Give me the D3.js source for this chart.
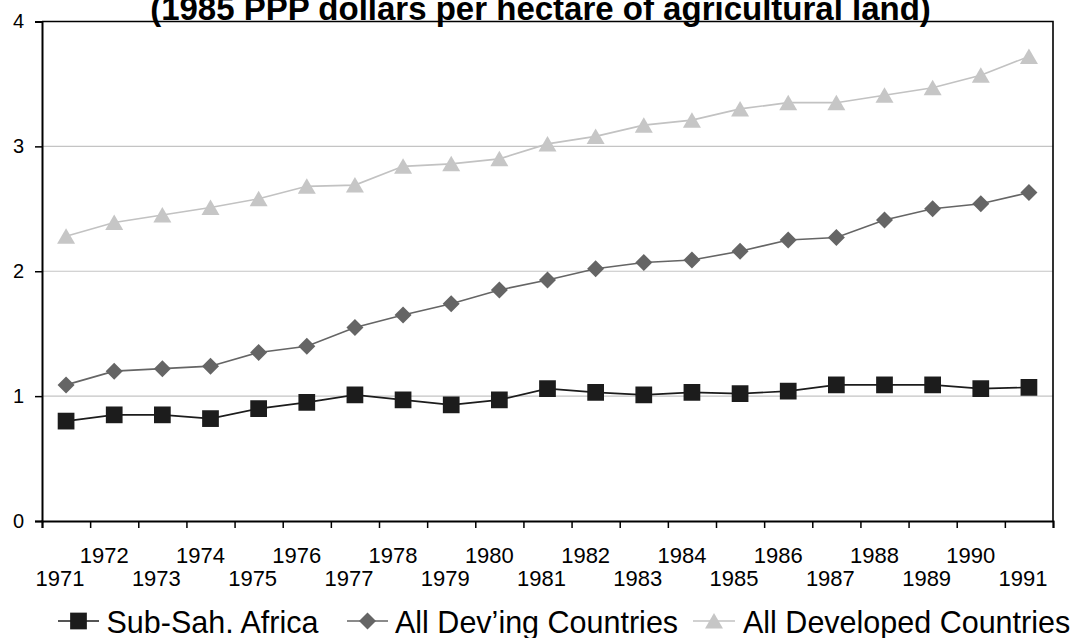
<!DOCTYPE html>
<html>
<head>
<meta charset="utf-8">
<script src="https://cdn.jsdelivr.net/npm/d3@7"></script>
<style>
  body { margin: 0; background: #fff; }
  svg { display: block; font-family: "Liberation Sans", Arial, sans-serif; }
</style>
</head>
<body>
<svg id="chart" width="1075" height="638"></svg>
<script>
// data (1985 PPP dollars / ha)
const years = d3.range(1971, 1992)
const subSahAfrica = [0.80, 0.85, 0.85, 0.82, 0.90, 0.95, 1.01, 0.97, 0.93, 0.97,
                      1.06, 1.03, 1.01, 1.03, 1.02, 1.04, 1.09, 1.09, 1.09, 1.06, 1.07]
const devingCountries = [1.09, 1.20, 1.22, 1.24, 1.35, 1.40, 1.55, 1.65, 1.74, 1.85,
                         1.93, 2.02, 2.07, 2.09, 2.16, 2.25, 2.27, 2.41, 2.50, 2.54, 2.63]
const developedCountries = [2.28, 2.39, 2.45, 2.51, 2.58, 2.68, 2.69, 2.84, 2.86, 2.90,
                            3.02, 3.08, 3.17, 3.21, 3.30, 3.35, 3.35, 3.41, 3.47, 3.57, 3.72]
const yTicks = [0, 1, 2, 3, 4]
const seriesNames = ["Sub-Sah. Africa", "All Dev\u2019ing Countries", "All Developed Countries"]
const titleText = "(1985 PPP dollars per hectare of agricultural land)"

const series = [
  { name: seriesNames[0], values: subSahAfrica, color: "#1c1c1c", line: "#1c1c1c", shape: "square" },
  { name: seriesNames[1], values: devingCountries, color: "#656565", line: "#656565", shape: "diamond" },
  { name: seriesNames[2], values: developedCountries, color: "#c6c6c6", line: "#c2c2c2", shape: "triangle" }
]

const svg = d3.select("#chart")
const plotLeft = 42, plotRight = 1053, plotTop = 21.5, plotBottom = 521

const x = d3.scaleBand().domain(years).range([plotLeft, plotRight])
const xEdge = d3.scaleLinear().domain([0, years.length]).range([plotLeft, plotRight])
const y = d3.scaleLinear().domain([0, 4]).range([plotBottom, plotTop])

// gridlines
svg.append("g")
  .selectAll("line")
  .data(yTicks.filter(d => d > 0 && d < 4))
  .enter()
  .append("line")
  .attr("x1", plotLeft).attr("x2", plotRight)
  .attr("y1", d => y(d)).attr("y2", d => y(d))
  .attr("stroke", "#c4c4c4")
  .attr("stroke-width", 1.2)

// plot frame (top + right)
svg.append("path")
  .attr("d", `M${plotLeft},${y(4)}H${plotRight}V${plotBottom}`)
  .attr("fill", "none")
  .attr("stroke", "#000")
  .attr("stroke-width", 1.6)

// left axis
const yAxis = svg.append("g")
  .attr("transform", `translate(${plotLeft},0)`)
  .call(d3.axisLeft(y).tickValues(yTicks).tickSize(7).tickPadding(11).tickFormat(d3.format("d")))
yAxis.select(".domain").attr("stroke-width", 2)
yAxis.selectAll(".tick line").attr("stroke-width", 1.5)
yAxis.selectAll("text")
  .attr("font-size", 20)
  .attr("font-family", "Liberation Sans, Arial, sans-serif")
  .attr("fill", "#000")

// bottom axis, ticks between categories
const xAxis = svg.append("g")
  .attr("transform", `translate(0,${plotBottom})`)
  .call(d3.axisBottom(xEdge).tickValues(d3.range(0, years.length + 1)).tickSize(7).tickFormat(""))
xAxis.select(".domain").attr("stroke-width", 2)
xAxis.selectAll(".tick line").attr("stroke-width", 1.5)

// staggered year labels
svg.append("g")
  .selectAll("text")
  .data(years)
  .enter()
  .append("text")
  .attr("x", d => x(d) + x.bandwidth() / 2 + (d % 2 === 0 ? -10 : -6))
  .attr("y", d => d % 2 === 0 ? 562.5 : 586)
  .attr("text-anchor", "middle")
  .attr("font-size", 22)
  .attr("fill", "#000")
  .text(d => d)

function markerPath(shape) {
  if (shape === "square") return d3.symbol(d3.symbolSquare, 280)()
  if (shape === "diamond") return "M0,-8.5L8.5,0L0,8.5L-8.5,0Z"
  return "M0,-8L9,7.5L-9,7.5Z"
}

const line = d3.line()
  .x((d, i) => x(years[i]) + x.bandwidth() / 2)
  .y(d => y(d))

// draw light series first so dark ones sit on top
series.slice().reverse().forEach(s => {
  const g = svg.append("g")
  g.append("path")
    .datum(s.values)
    .attr("d", line)
    .attr("fill", "none")
    .attr("stroke", s.line)
    .attr("stroke-width", 1.6)
  g.selectAll("path.mark")
    .data(s.values)
    .enter()
    .append("path")
    .attr("class", "mark")
    .attr("d", markerPath(s.shape))
    .attr("transform", (d, i) => `translate(${x(years[i]) + x.bandwidth() / 2},${y(d)})`)
    .attr("fill", s.color)
})

// title (second line only visible in the reference)
svg.append("text")
  .attr("x", 540.5)
  .attr("y", 19.5)
  .attr("text-anchor", "middle")
  .attr("font-size", 33)
  .attr("font-weight", "bold")
  .attr("fill", "#000")
  .text(titleText)

// legend
const legendPos = [
  { x1: 58, x2: 99, text: 106.5 },
  { x1: 347, x2: 388, text: 395 },
  { x1: 693, x2: 735, text: 743 }
]
const legendY = 621
const legend = svg.append("g")
series.forEach((s, i) => {
  const p = legendPos[i]
  legend.append("line")
    .attr("x1", p.x1).attr("x2", p.x2)
    .attr("y1", legendY).attr("y2", legendY)
    .attr("stroke", s.line)
    .attr("stroke-width", 1.6)
  legend.append("path")
    .attr("d", markerPath(s.shape))
    .attr("transform", `translate(${(p.x1 + p.x2) / 2},${legendY})`)
    .attr("fill", s.color)
  legend.append("text")
    .attr("x", p.text)
    .attr("y", 633)
    .attr("font-size", 30.5)
    .attr("fill", "#000")
    .text(s.name)
})
</script>
</body>
</html>
